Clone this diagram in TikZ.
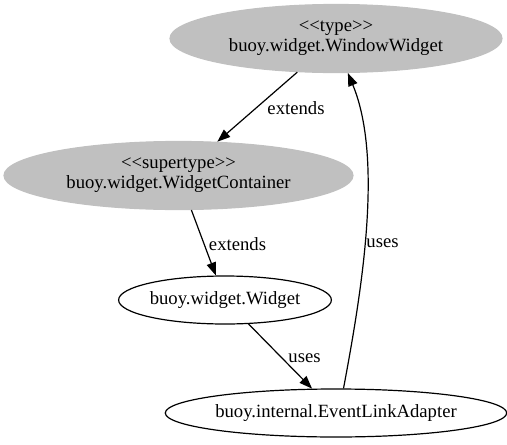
\documentclass[tikz,border=0pt]{standalone}
\usepackage{fontspec}
\newfontfamily\gvfont{Liberation Serif}
\usetikzlibrary{shapes.geometric,arrows.meta}
\definecolor{gvgray}{HTML}{C0C0C0}
\begin{document}
\begin{tikzpicture}[x=1pt,y=-1pt,
  gvtext/.style={font=\gvfont\fontsize{18.67}{20}\selectfont},
  gvnode/.style={gvtext, ellipse, inner sep=0pt, line width=1.2pt, align=center},
  typenode/.style={gvnode, fill=gvgray, draw=gvgray},
  plainnode/.style={gvnode, draw=black, fill=white},
  edgelabel/.style={gvtext, inner sep=0pt},
  gvedge/.style={line width=1.2pt, -{Triangle[length=13pt,width=9.5pt]}}]
\useasboundingbox (0,0) rectangle (507,445);
\node[typenode, minimum width=332pt, minimum height=68pt] (ww) at (336,38.5) {<<type>>\\buoy.widget.WindowWidget};
\node[typenode, minimum width=349pt, minimum height=68pt] (wc) at (178.5,175.5) {<<supertype>>\\buoy.widget.WidgetContainer};
\node[plainnode, minimum width=208pt, minimum height=48pt] (w) at (225,300) {buoy.widget.Widget};
\node[plainnode, minimum width=332pt, minimum height=48pt] (ela) at (336,413) {buoy.internal.EventLinkAdapter};
\draw[gvedge] (ww) -- (wc);
\draw[gvedge] (wc) -- (w);
\draw[gvedge] (w) -- (ela);
\draw[gvedge] (ela.73) .. controls (361,295) and (384,160) .. (ww.289);
\node[edgelabel] (l1) at (296,108) {extends};
\node[edgelabel] (l2) at (237.5,244) {extends};
\node[edgelabel] (l3) at (304.5,358) {uses};
\node[edgelabel] (l4) at (382.5,243) {uses};
\end{tikzpicture}
\end{document}
